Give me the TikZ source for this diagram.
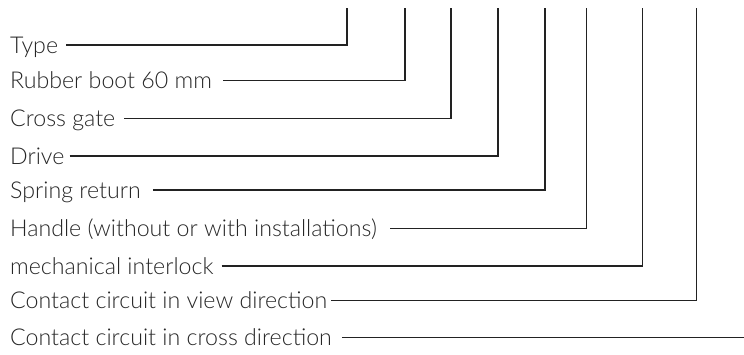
\documentclass[tikz,border=0pt]{standalone}
\usepackage{fontspec}
\setmainfont{Lato}[UprightFont=* Light]
\definecolor{txt}{HTML}{262626}
\definecolor{ln}{HTML}{222222}
\tikzset{
  lbl/.style={anchor=base west, inner sep=0pt, text=txt, font=\fontsize{23.2}{23.2}\selectfont},
  leader/.style={draw=ln, line width=1.5pt, line join=miter}
}
\begin{document}
\begin{tikzpicture}[x=1pt,y=-1pt]
\useasboundingbox (0,0) rectangle (744,354);
\node[lbl] (t1) at (10,53) {Type};
\node[lbl] (t2) at (10,88.7) {Rubber boot 60 mm};
\node[lbl] (t3) at (10,126.3) {Cross gate};
\node[lbl] (t4) at (10,164) {Drive};
\node[lbl] (t5) at (10,198) {Spring return};
\node[lbl] (t6) at (10,236.3) {Handle (without or with installations)};
\node[lbl] (t7) at (10,274) {mechanical interlock};
\node[lbl] (t8) at (10,308.7) {Contact circuit in view direction};
\node[lbl] (t9) at (10,345.7) {Contact circuit in cross direction};
\coordinate (e1) at (347,8);
\coordinate (e2) at (405,8);
\coordinate (e3) at (451,8);
\coordinate (e4) at (498,8);
\coordinate (e5) at (545,8);
\coordinate (e6) at (586.3,8);
\coordinate (e7) at (642.7,8);
\coordinate (e8) at (696.3,8);
\coordinate (e9) at (744,337.7);
\foreach \i/\g in {1/8,2/11,3/9,4/5,5/12,6/13,7/8,8/4} {
  \draw[leader] ([xshift=\g pt, yshift=8pt]t\i.base east) -| (e\i);
}
\coordinate (s9) at ([xshift=10pt, yshift=8pt]t9.base east);
\draw[leader] (s9) -- (s9 -| e9);
\end{tikzpicture}
\end{document}
